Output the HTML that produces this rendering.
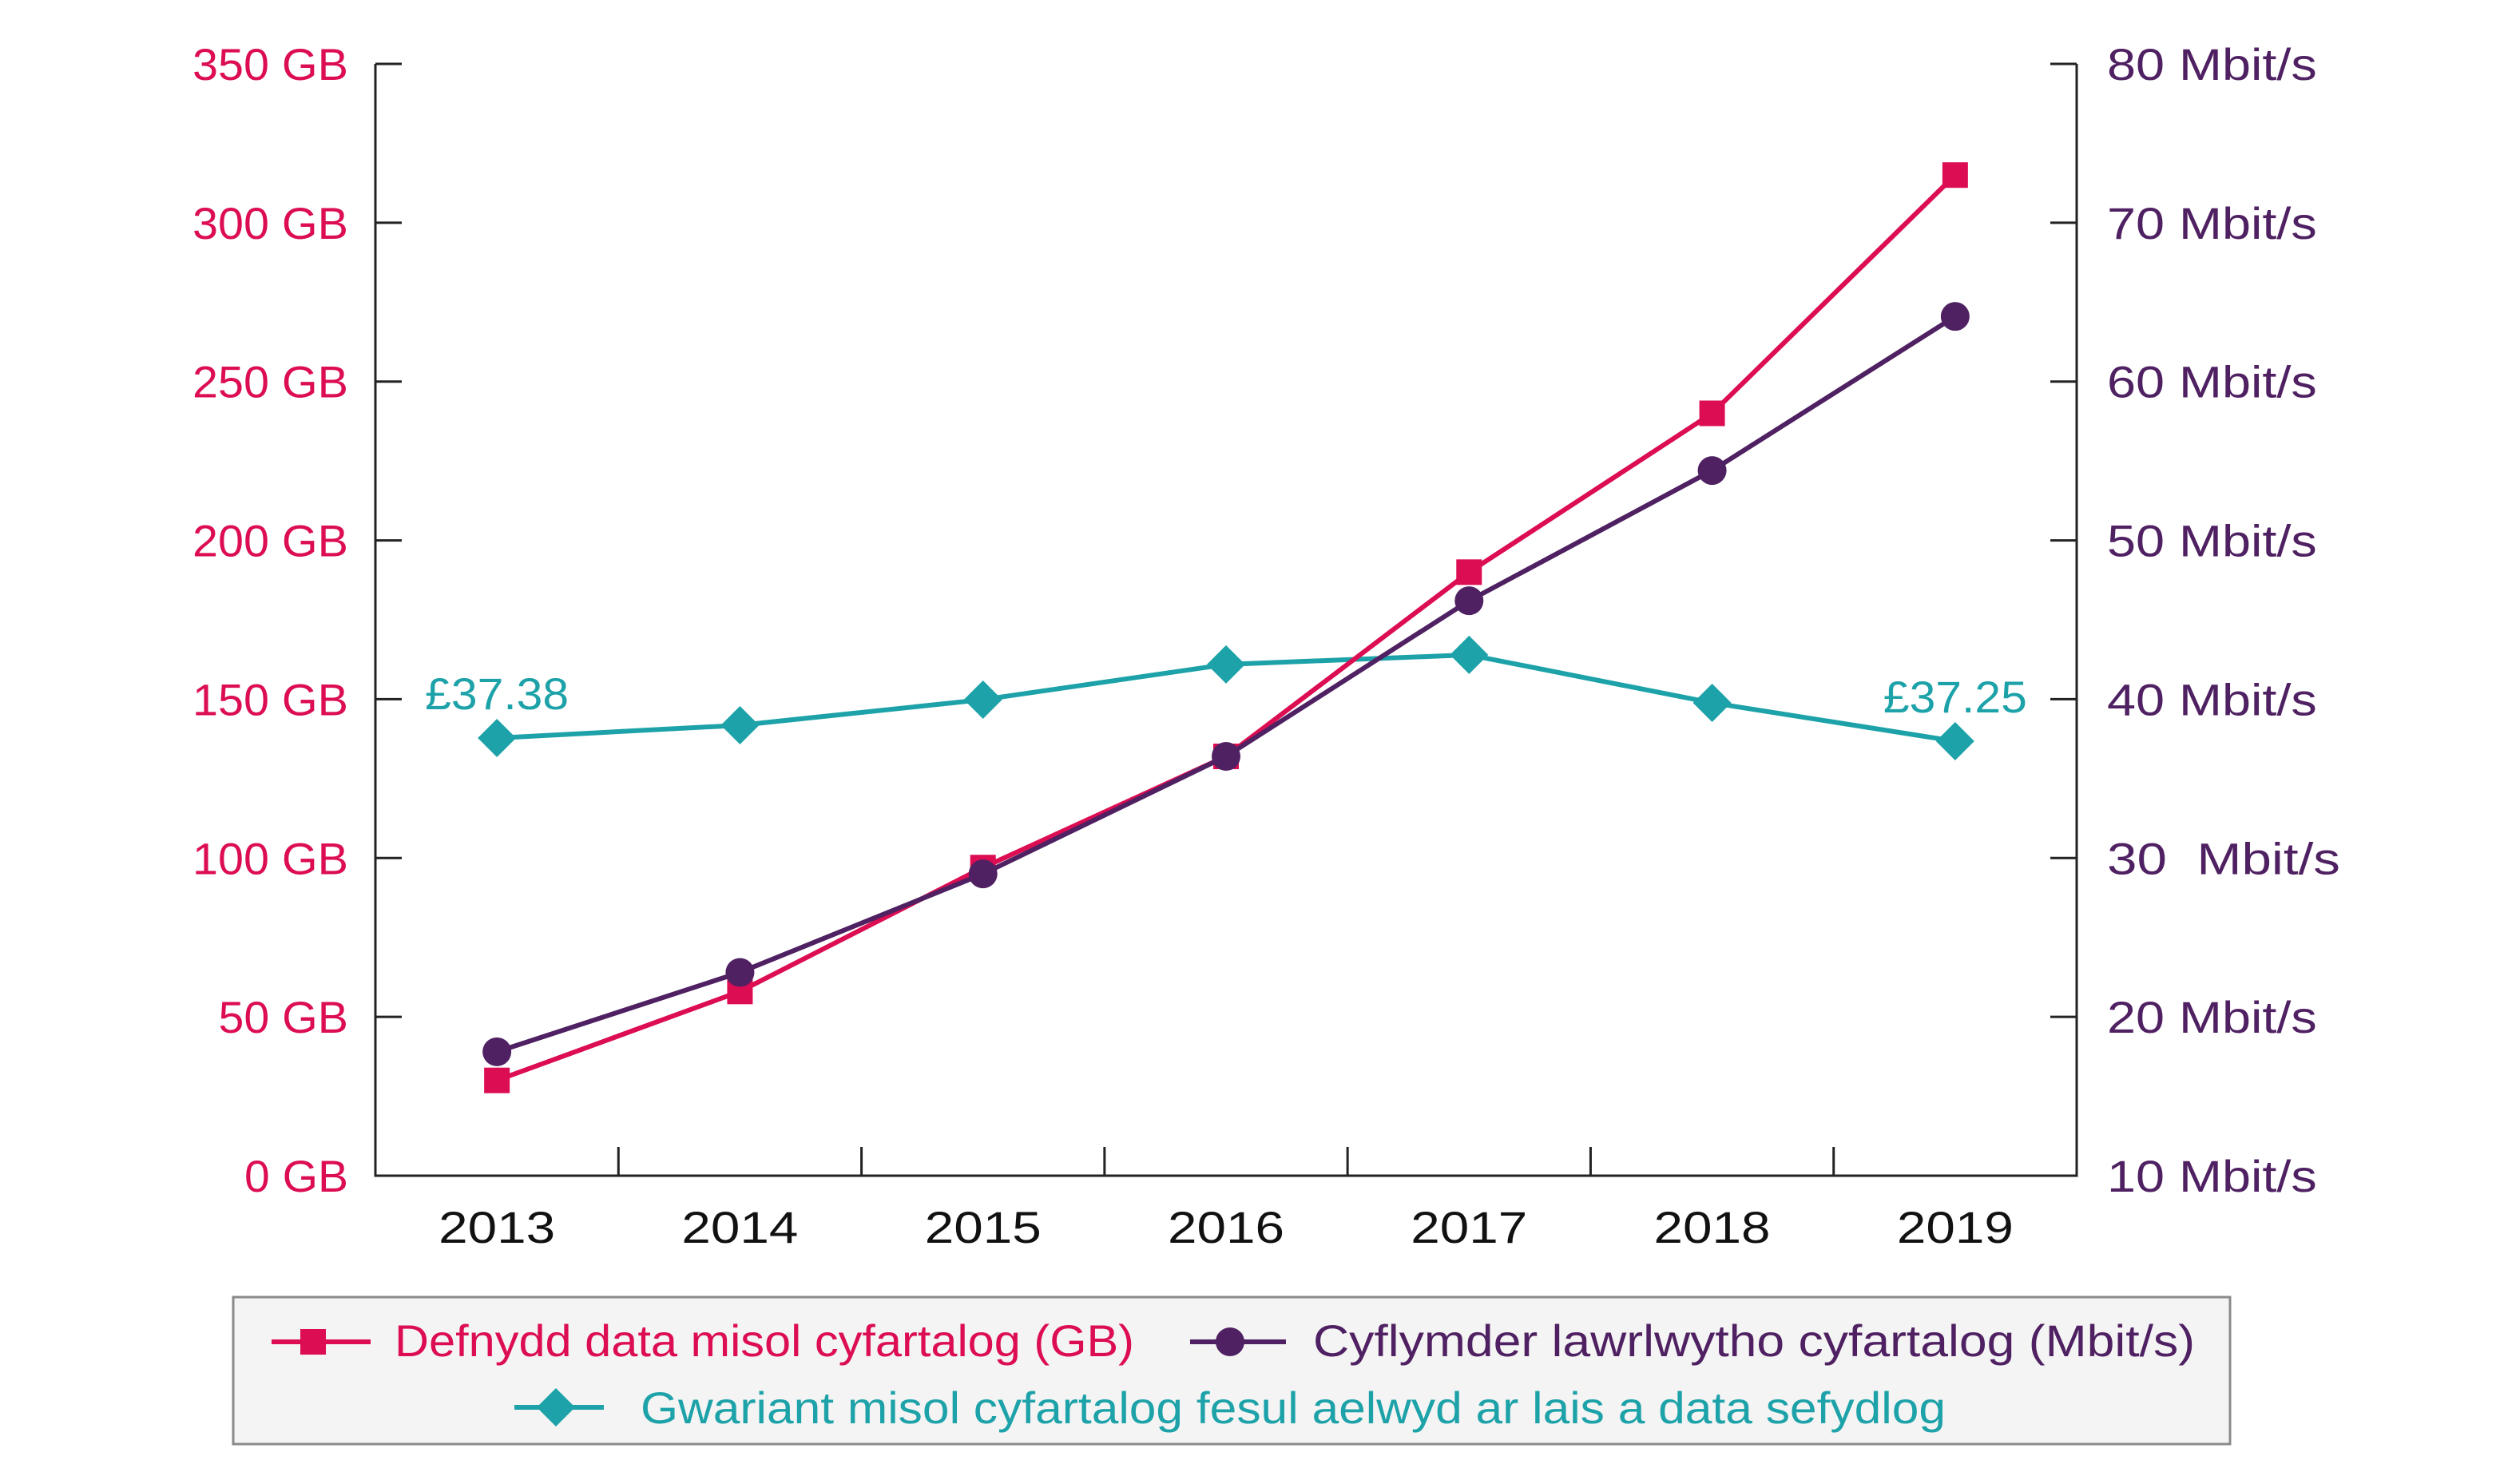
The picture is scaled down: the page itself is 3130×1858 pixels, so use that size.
<!DOCTYPE html>
<html><head><meta charset="utf-8"><style>
html,body{margin:0;padding:0;background:#fff;}
svg{display:block;font-family:"Liberation Sans Narrow","Liberation Sans",sans-serif;}
</style></head><body>
<svg id="chart" width="3130" height="1858" viewBox="0 0 3130 1858" xmlns="http://www.w3.org/2000/svg">
<g id="grid"></g>
<g id="series"></g>
<rect x="292" y="1624" width="2500" height="184" fill="#f4f4f4" stroke="#8a8a8a" stroke-width="3"/>
<g>
<line x1="340" y1="1680" x2="464" y2="1680" stroke="#dc0d52" stroke-width="6"/>
<rect x="376" y="1664" width="32" height="32" fill="#dc0d52"/>
<text x="494" y="1698" font-size="56" fill="#dc0d52" textLength="926" lengthAdjust="spacingAndGlyphs">Defnydd data misol cyfartalog (GB)</text>
</g>
<g>
<line x1="1490" y1="1680" x2="1610" y2="1680" stroke="#4f2162" stroke-width="6"/>
<circle cx="1540" cy="1680" r="18" fill="#4f2162"/>
<text x="1644" y="1698" font-size="56" fill="#4f2162" textLength="1104" lengthAdjust="spacingAndGlyphs">Cyflymder lawrlwytho cyfartalog (Mbit/s)</text>
</g>
<g>
<line x1="644" y1="1762" x2="756" y2="1762" stroke="#1ca2a8" stroke-width="6"/>
<path d="M696 1738 L720 1762 L696 1786 L672 1762 Z" fill="#1ca2a8"/>
<text x="802" y="1782" font-size="56" fill="#1ca2a8" textLength="1634" lengthAdjust="spacingAndGlyphs">Gwariant misol cyfartalog fesul aelwyd ar lais a data sefydlog</text>
</g>
</svg>
<script>
const years = ["2013","2014","2015","2016","2017","2018","2019"];
const dataGB = [30, 58, 97, 132, 190, 240, 315];
const speedMbit = [17.8, 22.8, 29.0, 36.4, 46.2, 54.4, 64.1];
const spendGBP = [37.38, 37.9, 38.94, 40.37, 40.76, 38.81, 37.25];
const gbTicks = [0, 50, 100, 150, 200, 250, 300, 350];
const gbTickLabels = ["0 GB","50 GB","100 GB","150 GB","200 GB","250 GB","300 GB","350 GB"];
const mbitTicks = [10, 20, 30, 40, 50, 60, 70, 80];
const mbitTickLabels = ["10 Mbit/s","20 Mbit/s","30\u00a0 Mbit/s","40 Mbit/s","50 Mbit/s","60 Mbit/s","70 Mbit/s","80 Mbit/s"];

const NS = "http://www.w3.org/2000/svg";
const L = 470, R = 2600, T = 80, B = 1472;
const band = (R - L) / years.length;
const xPos = i => L + band / 2 + i * band;
const yGB = v => B - v / 350 * (B - T);
const yMbit = v => B - (v - 10) / 70 * (B - T);
const ySpend = v => 924 - (v - 37.38) * 30.8;
const PINK = "#dc0d52", PURPLE = "#4f2162", TEAL = "#1ca2a8";
const grid = document.getElementById("grid");
const ser = document.getElementById("series");
function mk(tag, attrs, parent) {
  const e = document.createElementNS(NS, tag);
  for (const k in attrs) e.setAttribute(k, attrs[k]);
  parent.appendChild(e);
  return e;
}
// axes
let a = mk("path", {d:`M${L} ${T} V${B} H${R} V${T}`, fill:"none", stroke:"#222", "stroke-width":3}, grid);


gbTicks.forEach((v, i) => {
  const y = yGB(v);
  let t = mk("line", {x1:L, y1:y, x2:L+33, y2:y, stroke:"#222", "stroke-width":3}, grid);
  
  
  const s = gbTickLabels[i];
  let tx = mk("text", {x:436, y:y+20, "font-size":56, fill:PINK, "text-anchor":"end", textLength:s.length*32.5, lengthAdjust:"spacingAndGlyphs"}, grid);
  tx.textContent = s;
  
  
});
mbitTicks.forEach((v, i) => {
  const y = yMbit(v);
  let t = mk("line", {x1:R-33, y1:y, x2:R, y2:y, stroke:"#222", "stroke-width":3}, grid);
  
  
  const s = mbitTickLabels[i];
  let tx = mk("text", {x:2638, y:y+20, "font-size":56, fill:PURPLE, textLength:s.length*29.2, lengthAdjust:"spacingAndGlyphs"}, grid);
  tx.textContent = s;
  
  
});
years.forEach((yr, i) => {
  if (i > 0) {
    const x = L + i * band;
    let t = mk("line", {x1:x, y1:B-36, x2:x, y2:B, stroke:"#222", "stroke-width":3}, grid);
    
    
  }
  let tx = mk("text", {x:xPos(i), y:1556, "font-size":56, fill:"#111", "text-anchor":"middle", textLength:146, lengthAdjust:"spacingAndGlyphs"}, grid);
  tx.textContent = yr;
  
  
});
function line(vals, yf, color, name) {
  let p = mk("polyline", {points: vals.map((v,i)=>xPos(i)+","+yf(v)).join(" "), fill:"none", stroke:color, "stroke-width":6, "stroke-linejoin":"round"}, ser);
  
  
}
// spend line (drawn first, behind)
line(spendGBP, ySpend, TEAL, "spend-line");
spendGBP.forEach((v, i) => {
  const x = xPos(i), y = ySpend(v);
  let m = mk("path", {d:`M${x} ${y-24} L${x+24} ${y} L${x} ${y+24} L${x-24} ${y} Z`, fill:TEAL}, ser);
  
  
});
line(dataGB, yGB, PINK, "data-usage-line");
dataGB.forEach((v, i) => {
  let m = mk("rect", {x:xPos(i)-16, y:yGB(v)-16, width:32, height:32, fill:PINK}, ser);
  
  
});
line(speedMbit, yMbit, PURPLE, "download-speed-line");
speedMbit.forEach((v, i) => {
  let m = mk("circle", {cx:xPos(i), cy:yMbit(v), r:18, fill:PURPLE}, ser);
  
  
});
[0, spendGBP.length - 1].forEach(i => {
  let tx = mk("text", {x:xPos(i), y:ySpend(spendGBP[i])-36, "font-size":56, fill:TEAL, "text-anchor":"middle", textLength:180, lengthAdjust:"spacingAndGlyphs"}, ser);
  tx.textContent = "£" + spendGBP[i].toFixed(2);
  
  
});
</script>
</body></html>
